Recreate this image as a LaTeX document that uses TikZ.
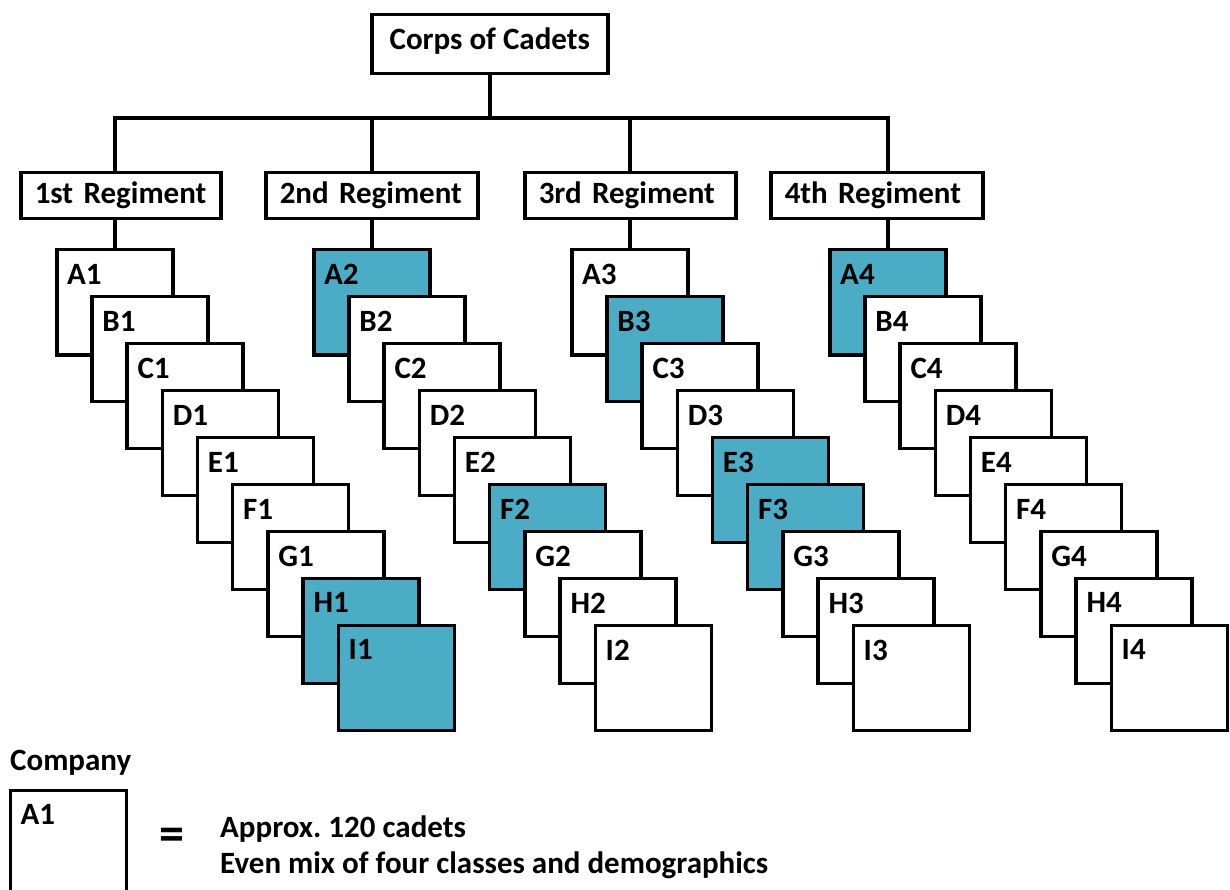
\documentclass[tikz,border=0pt]{standalone}
\usepackage{fontspec}
\setmainfont{Carlito}
\frenchspacing
\definecolor{coteal}{HTML}{4BACC6}
\begin{document}
\begin{tikzpicture}[x=1pt,y=-1pt,
  every node/.style={font=\fontsize{31}{37}\selectfont\bfseries, text=black},
  link/.style={line width=3.5pt, line cap=rect},
  frame/.style={draw, line width=3.5pt, fill=white},
  topbox/.style={frame, minimum width=236pt, minimum height=59pt, inner sep=0pt, text depth=11pt, anchor=north west},
  regbox/.style={frame, minimum height=46pt, inner ysep=0pt, inner xsep=14pt, align=left, anchor=north west},
  coy/.style={frame, minimum width=116pt, minimum height=105pt, inner sep=0pt, anchor=north west},
  coylbl/.style={anchor=north west, inner sep=0pt, xshift=12pt, yshift=-16pt},
  plain/.style={anchor=base west, inner sep=0pt},
  hl/A2/.style={fill=coteal}, hl/F2/.style={fill=coteal},
  hl/H1/.style={fill=coteal}, hl/I1/.style={fill=coteal},
  hl/B3/.style={fill=coteal}, hl/E3/.style={fill=coteal},
  hl/F3/.style={fill=coteal}, hl/A4/.style={fill=coteal}
]
\useasboundingbox (0,0) rectangle (1230,890);

% top of the hierarchy
\node[topbox] (corps) at (370,13) {Corps of Cadets};

% regiments
\node[regbox, text width=172pt] (reg1) at (19,171) {1st Regiment};
\node[regbox, text width=184pt] (reg2) at (264,171) {2nd Regiment};
\node[regbox, text width=183pt] (reg3) at (523,171) {3rd Regiment};
\node[regbox, text width=184pt] (reg4) at (769,171) {4th Regiment};

% companies, stacked A to I in each regiment
\foreach \r/\x in {1/55,2/312,3/570,4/828} {
  \foreach \c [count=\i from 0] in {A,B,C,D,E,F,G,H,I} {
    \node[coy, hl/\c\r/.try] (\c\r) at ({\x+35.19*\i},{248+46.94*\i}) {};
    \node[coylbl] (\c\r t) at (\c\r.north west) {\c\r};
  }
}

% connectors
\coordinate (bar) at (0,118);
\draw[link] (corps.south) -- (corps.south |- bar);
\draw[link] (A1.north |- bar) -- (A4.north |- bar);
\foreach \r in {1,...,4} {
  \draw[link] (A\r.north |- bar) -- (A\r.north |- reg\r.north);
  \draw[link] (A\r.north |- reg\r.south) -- (A\r.north);
}

% key
\node[plain] (keytitle) at (10,770) {Company};
\node[coy, minimum height=130pt] (keybox) at (8.5,788.5) {};
\node[coylbl] (keylbl) at (keybox.north west) {A1};
\node[font=\fontsize{50}{60}\selectfont\bfseries, inner sep=0pt] (eq) at (172,839) {=};
\node[plain] (key1) at (220,837) {Approx. 120 cadets};
\node[plain] (key2) at (220,873) {Even mix of four classes and demographics};
\end{tikzpicture}
\end{document}
